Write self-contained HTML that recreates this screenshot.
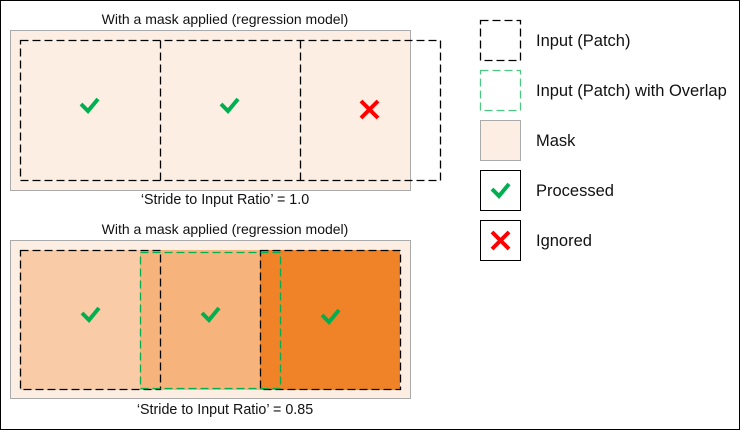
<!DOCTYPE html>
<html><head><meta charset="utf-8"><style>
html,body{margin:0;padding:0;background:#fff}
svg{display:block}
text{font-family:"Liberation Sans",Arial,sans-serif;fill:#111}
</style></head><body>
<svg width="741" height="431" viewBox="0 0 741 431" xmlns="http://www.w3.org/2000/svg">
<rect x="0.5" y="0.5" width="739" height="429" fill="#fff" stroke="#000" stroke-width="1"/>
<!-- top -->
<text x="225" y="24" font-size="14" text-anchor="middle">With a mask applied (regression model)</text>
<rect x="10.5" y="30.5" width="400" height="160" fill="#FCEEE3" stroke="#aaa"/>
<g fill="none" stroke="#000" stroke-width="1.3" stroke-dasharray="8,4">
<rect x="20.5" y="40.5" width="420" height="140"/>
<path d="M160.5,40.5 V180.5 M300.5,40.5 V180.5"/>
</g>
<g fill="none" stroke="#00B050" stroke-width="4">
<path d="M81,104 L88,111 L98,99"/>
<path d="M221,104 L228,111 L238,99"/>
</g>
<g stroke="#FF0000" stroke-width="4"><path d="M361,101 L378,118 M378,101 L361,118"/></g>
<text x="225" y="204" font-size="14.3" text-anchor="middle">‘Stride to Input Ratio’ = 1.0</text>
<!-- bottom -->
<text x="225" y="234" font-size="14" text-anchor="middle">With a mask applied (regression model)</text>
<rect x="10.5" y="240.5" width="400" height="158" fill="#FCEEE3" stroke="#aaa"/>
<rect x="20" y="250" width="120" height="140" fill="#F9CBA6"/>
<rect x="140" y="250" width="120" height="140" fill="#F6B47C"/>
<rect x="260" y="250" width="140" height="140" fill="#F08328"/>
<g fill="none" stroke="#000" stroke-width="1.3" stroke-dasharray="8,4">
<rect x="20.5" y="250.5" width="140" height="139"/>
<rect x="260.5" y="250.5" width="140" height="139"/>
</g>
<rect x="140.5" y="252.5" width="140" height="136" fill="none" stroke="#00B050" stroke-width="1.3" stroke-dasharray="8,4"/>
<g fill="none" stroke="#00B050" stroke-width="4">
<path d="M82,313 L89,320 L99,308"/>
<path d="M202,313 L209,320 L219,308"/>
<path d="M322,315 L329,322 L339,310"/>
</g>
<text x="225" y="414" font-size="14.3" text-anchor="middle">‘Stride to Input Ratio’ = 0.85</text>
<!-- legend -->
<rect x="480.5" y="20.5" width="40" height="40" fill="none" stroke="#000" stroke-width="1.3" stroke-dasharray="8,4"/>
<rect x="480.5" y="70.5" width="40" height="40" fill="none" stroke="#00B050" stroke-opacity="0.7" stroke-width="1.3" stroke-dasharray="8,4"/>
<rect x="480.5" y="120.5" width="40" height="40" fill="#FCEEE3" stroke="#aaa"/>
<rect x="480.5" y="170.5" width="40" height="40" fill="#fff" stroke="#000"/>
<rect x="480.5" y="220.5" width="40" height="40" fill="#fff" stroke="#000"/>
<path d="M492,189 L499,196 L509,184" fill="none" stroke="#00B050" stroke-width="4"/>
<path d="M492,232 L509,249 M509,232 L492,249" stroke="#FF0000" stroke-width="4"/>
<g font-size="16.5">
<text x="536" y="46">Input (Patch)</text>
<text x="536" y="96">Input (Patch) with Overlap</text>
<text x="536" y="146">Mask</text>
<text x="536" y="196">Processed</text>
<text x="536" y="246">Ignored</text>
</g>
</svg>
</body></html>
